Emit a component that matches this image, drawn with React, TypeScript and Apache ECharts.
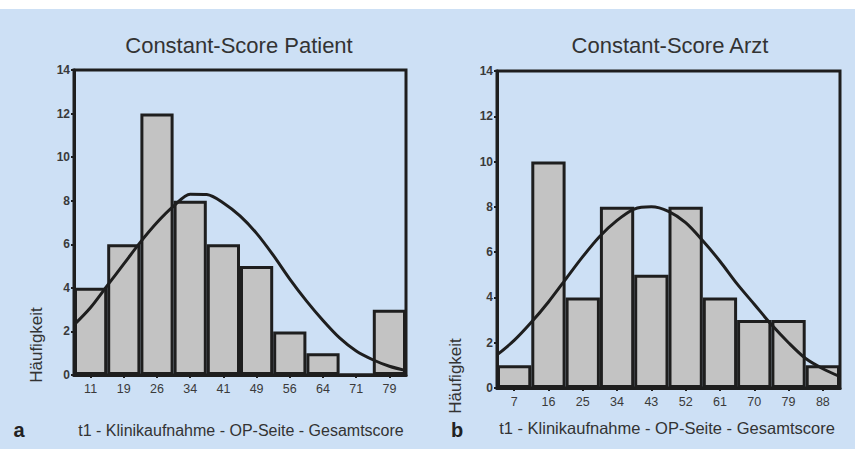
import React, { useEffect, useRef } from "react";
import * as echarts from "echarts";

const patientBins = ["11", "19", "26", "34", "41", "49", "56", "64", "71", "79"];
const patientCounts = [4, 6, 12, 8, 6, 5, 2, 1, 0, 3];
// curve read at half-bin steps (x in bin widths from the left edge of the plot)
const patientCurveX = [0, 0.5, 1, 1.5, 2, 2.5, 3, 3.5, 4, 4.5, 5, 5.5, 6, 6.5, 7, 7.5, 8, 8.5, 9, 9.5, 10];
const patientCurveY = [2.3, 3.1, 4.1, 5.1, 6.1, 7.0, 7.75, 8.3, 8.28, 7.9, 7.3, 6.5, 5.5, 4.4, 3.4, 2.5, 1.7, 1.1, 0.7, 0.4, 0.2];

const arztBins = ["7", "16", "25", "34", "43", "52", "61", "70", "79", "88"];
const arztCounts = [1, 10, 4, 8, 5, 8, 4, 3, 3, 1];
const arztCurveX = [0, 0.5, 1, 1.5, 2, 2.5, 3, 3.5, 4, 4.5, 5, 5.5, 6, 6.5, 7, 7.5, 8, 8.5, 9, 9.5, 10];
const arztCurveY = [1.46, 2.1, 2.9, 3.8, 4.8, 5.8, 6.7, 7.4, 7.9, 8.0, 7.8, 7.3, 6.5, 5.6, 4.6, 3.7, 2.8, 2.0, 1.3, 0.85, 0.5];

const yTicks = [0, 2, 4, 6, 8, 10, 12, 14];

const INK = "#1e1e1e";
const BAR = "#c3c3c3";

export default function App() {
  const ref = useRef<HTMLDivElement>(null);
  useEffect(() => {
    if (!ref.current) return;
    const chart = echarts.init(ref.current, null, { renderer: "svg" });
    const grids = [
      { left: 74, top: 70, width: 332, height: 305 },
      { left: 497, top: 71, width: 343, height: 317 },
    ];
    const catAxis = (i: number, data: string[]) => ({
      type: "category",
      gridIndex: i,
      data,
      boundaryGap: true,
      axisLine: { show: true, lineStyle: { color: INK, width: 3 } },
      axisTick: { show: true, alignWithLabel: true, length: 3, lineStyle: { color: INK, width: 2 } },
      axisLabel: { color: "#3a3a3a", fontSize: 12.5, fontFamily: "Liberation Sans, Arial", margin: 7 },
      splitLine: { show: false },
    });
    const valXAxis = (i: number) => ({
      type: "value",
      gridIndex: i,
      min: 0,
      max: 10,
      show: false,
    });
    const yAxis = (i: number) => ({
      type: "value",
      gridIndex: i,
      min: yTicks[0],
      max: yTicks[yTicks.length - 1],
      interval: 2,
      axisLine: { show: true, lineStyle: { color: INK, width: 3 } },
      axisTick: { show: true, length: 3, lineStyle: { color: INK, width: 2 } },
      axisLabel: { color: "#3a3a3a", fontSize: 12, fontWeight: "bold", fontFamily: "Liberation Sans, Arial", margin: 4 },
      splitLine: { show: false },
    });
    const text = (x: number, y: number, t: string, size: number, extra: any = {}) => ({
      type: "text",
      x,
      y,
      style: {
        text: t,
        fontSize: size,
        fontFamily: "Liberation Sans, Arial",
        fill: "#333",
        align: "center",
        verticalAlign: "middle",
        ...(extra.style || {}),
      },
      ...(extra.el || {}),
    });
    chart.setOption({
      animation: false,
      grid: grids.map((g) => ({ ...g, show: true, borderColor: INK, borderWidth: 3, backgroundColor: "transparent" })),
      xAxis: [catAxis(0, patientBins), catAxis(1, arztBins), valXAxis(0), valXAxis(1)],
      yAxis: [yAxis(0), yAxis(1)],
      series: [
        {
          type: "bar",
          xAxisIndex: 0,
          yAxisIndex: 0,
          data: patientCounts,
          barCategoryGap: 0,
          itemStyle: { color: BAR, borderColor: INK, borderWidth: 3 },
        },
        {
          type: "bar",
          xAxisIndex: 1,
          yAxisIndex: 1,
          data: arztCounts,
          barCategoryGap: 0,
          itemStyle: { color: BAR, borderColor: INK, borderWidth: 3 },
        },
        {
          type: "line",
          xAxisIndex: 2,
          yAxisIndex: 0,
          data: patientCurveX.map((x, i) => [x, patientCurveY[i]]),
          smooth: 0.3,
          symbol: "none",
          lineStyle: { color: INK, width: 3 },
          z: 5,
        },
        {
          type: "line",
          xAxisIndex: 3,
          yAxisIndex: 1,
          data: arztCurveX.map((x, i) => [x, arztCurveY[i]]),
          smooth: 0.3,
          symbol: "none",
          lineStyle: { color: INK, width: 3 },
          z: 5,
        },
      ],
      graphic: [
        text(239, 45, "Constant-Score Patient", 22),
        text(670, 45, "Constant-Score Arzt", 22),
        text(241, 430, "t1 - Klinikaufnahme - OP-Seite - Gesamtscore", 16),
        text(667, 428, "t1 - Klinikaufnahme - OP-Seite - Gesamtscore", 16.5),
        text(19, 430, "a", 20, { style: { fontWeight: "bold", fill: "#222" } }),
        text(457, 430, "b", 20, { style: { fontWeight: "bold", fill: "#222" } }),
        text(36, 345, "Häufigkeit", 17, { el: { rotation: Math.PI / 2 } }),
        text(455, 376, "Häufigkeit", 17, { el: { rotation: Math.PI / 2 } }),
      ],
    });
    return () => chart.dispose();
  }, []);
  return (
    <div
      ref={ref}
      style={{
        position: "absolute",
        left: 0,
        top: 0,
        width: 855,
        height: 449,
        background: "linear-gradient(#ffffff 0px, #ffffff 9px, #cde0f5 9px, #cde0f5 100%)",
      }}
    />
  );
}
